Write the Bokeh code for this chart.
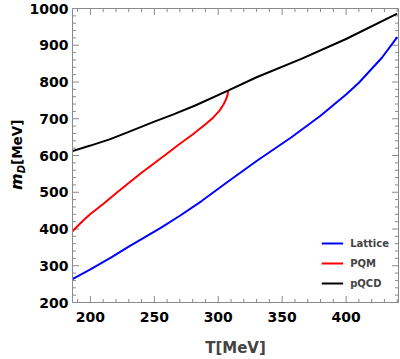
import math
from bokeh.plotting import figure
from bokeh.layouts import row
from bokeh.models import (LinearAxis, Range1d, Legend, LegendItem, Div,
                          FixedTicker)
from bokeh.embed import file_html
from bokeh.resources import INLINE

# data
T_lattice = [185, 200, 216, 230, 255, 270, 287, 308, 330, 357, 380, 400, 410, 428, 440]
m_lattice = [262, 290, 322, 352, 403, 436, 476, 530, 585, 649, 708, 766, 798, 866, 922]

T_pqm = [185, 190, 195, 200, 210, 221, 230, 240, 258, 270, 280, 290, 296, 301,
         304, 306, 307.3, 307.8]
m_pqm = [390, 408, 425, 441, 468, 500, 525, 553, 600, 632, 657, 685, 703, 722,
         738, 752, 765, 777]

T_pqcd = [185, 200, 215, 229, 250, 265, 282, 308, 330, 365, 400, 440]
m_pqcd = [611, 627, 644, 663, 692, 712, 736, 777, 813, 863, 917, 986]

x_ticks = [200, 250, 300, 350, 400]
y_ticks = [200, 300, 400, 500, 600, 700, 800, 900, 1000]
x_minor = [190, 210, 220, 230, 240, 260, 270, 280, 290, 310, 320, 330, 340,
           360, 370, 380, 390, 410, 420, 430, 440]
y_minor = [220, 240, 260, 280, 320, 340, 360, 380, 420, 440, 460, 480, 520,
           540, 560, 580, 620, 640, 660, 680, 720, 740, 760, 780, 820, 840,
           860, 880, 920, 940, 960, 980]
X_MIN, X_MAX = 186, 441
Y_MIN, Y_MAX = 200, 1000

FONT = "DejaVu Sans"
GRAY = "#8a8a8a"

p = figure(width=374, height=359, output_backend="svg", toolbar_location=None,
           x_range=Range1d(X_MIN, X_MAX), y_range=Range1d(Y_MIN, Y_MAX),
           min_border_left=45, min_border_right=2, min_border_top=8,
           min_border_bottom=57, x_axis_location=None, y_axis_location=None)
p.grid.visible = False
p.outline_line_color = GRAY
p.outline_line_width = 1
p.background_fill_color = "white"

def style_axis(ax):
    ax.axis_line_color = GRAY
    ax.major_tick_line_color = None
    ax.minor_tick_line_color = None
    ax.major_tick_out = 0
    ax.minor_tick_out = 0
    ax.major_tick_in = 0
    ax.minor_tick_in = 0
    ax.axis_label_standoff = 0
    ax.major_label_text_font = FONT
    ax.major_label_text_font_style = "bold"
    ax.major_label_text_font_size = "14px"
    ax.major_label_text_color = "black"

xa = LinearAxis(ticker=FixedTicker(ticks=x_ticks))
style_axis(xa)
xa.axis_label = "T[MeV]"
xa.axis_label_text_font = FONT
xa.axis_label_text_font_style = "bold"
xa.axis_label_text_font_size = "15px"
xa.axis_label_standoff = 14
xa.major_label_standoff = 9
p.add_layout(xa, "below")

ya = LinearAxis(ticker=FixedTicker(ticks=y_ticks))
style_axis(ya)
ya.major_label_standoff = 4
p.add_layout(ya, "left")

# inward frame ticks (drawn as half-clipped dash markers on the frame edges)
for yy in (Y_MIN, Y_MAX):
    p.scatter(x_ticks, [yy] * len(x_ticks), marker="dash", size=13, angle=math.pi / 2,
              line_color=GRAY, line_width=1)
    p.scatter(x_minor, [yy] * len(x_minor), marker="dash", size=7, angle=math.pi / 2,
              line_color=GRAY, line_width=1)
for xx in (X_MIN, X_MAX):
    p.scatter([xx] * len(y_ticks), y_ticks, marker="dash", size=13,
              line_color=GRAY, line_width=1)
    p.scatter([xx] * len(y_minor), y_minor, marker="dash", size=7,
              line_color=GRAY, line_width=1)

r1 = p.line(T_lattice, m_lattice, line_color="#0000ff", line_width=2)
r2 = p.line(T_pqm, m_pqm, line_color="#ff0000", line_width=2)
r3 = p.line(T_pqcd, m_pqcd, line_color="black", line_width=2)

legend = Legend(items=[LegendItem(label="Lattice", renderers=[r1]),
                       LegendItem(label="PQM", renderers=[r2]),
                       LegendItem(label="pQCD", renderers=[r3])],
                location="bottom_right", border_line_alpha=0,
                background_fill_alpha=0, label_text_font=FONT,
                label_text_font_style="bold", label_text_font_size="10px",
                glyph_width=22, glyph_height=20, label_height=20, spacing=0,
                label_standoff=7, padding=0, margin=9)
p.add_layout(legend, "center")

ylabel_html = (
    '<div style="display:inline-block; transform:translate(9px, 190px) rotate(-90deg);'
    ' transform-origin:0 0; white-space:nowrap; font-family:\'DejaVu Sans\';'
    ' font-weight:bold; line-height:1; color:black;">'
    '<span style="font-size:16px; font-style:italic;">m</span>'
    '<span style="font-size:10px; font-style:italic; position:relative; top:3px;">D</span>'
    '<span style="font-size:13.5px;">[MeV]</span></div>'
)
div = Div(text=ylabel_html, width=26, height=359, margin=0)

layout = row(div, p, spacing=0)
open("out.html", "w").write(file_html(layout, INLINE))
